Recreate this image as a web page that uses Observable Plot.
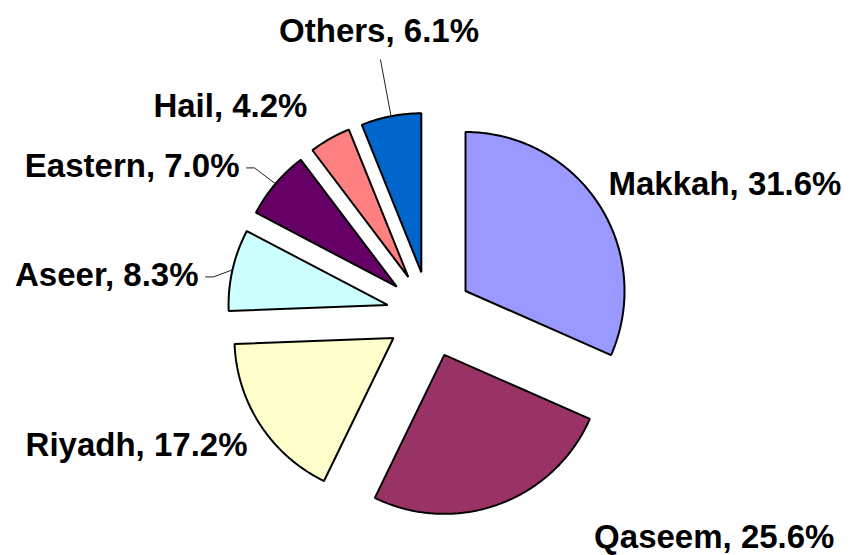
<!DOCTYPE html>
<html>
<head>
<meta charset="utf-8">
<script src="https://cdn.jsdelivr.net/npm/d3@7"></script>
<script src="https://cdn.jsdelivr.net/npm/@observablehq/plot@0.6"></script>
<style>
  html, body { margin: 0; padding: 0; background: #ffffff; }
  #chart { width: 853px; height: 555px; }
</style>
</head>
<body>
<div id="chart"></div>
<script>
// ---- data ----
const regions = ["Makkah", "Qaseem", "Riyadh", "Aseer", "Eastern", "Hail", "Others"];
const shares  = [31.6, 25.6, 17.2, 8.3, 7.0, 4.2, 6.1];
const colors  = ["#9999FF", "#993366", "#FFFFCC", "#CCFFFF", "#660066", "#FF8080", "#0066CC"];

// ---- layout (pixels) ----
const W = 853, H = 555;
const R = 159;              // pie radius in px
const CX = 429, CY = 314;   // pie centre in px
const EXPLODE = 43 / R;     // explosion distance in radius units
const labelShift  = [[9.8, -19.2], [95, 33.5], [-12.8, 21], [-34, 6.1], [-36, -16.9], [-22.5, -31.8], [-12, -84.3]];
const labelAnchor = ["start", "start", "end", "end", "end", "end", "middle"];
const hasLeader   = [false, false, false, true, true, false, true];

// ---- geometry from data ----
const total = d3.sum(shares);
const slices = [];
let acc = 0;
regions.forEach((name, i) => {
  const a0 = acc / total * 2 * Math.PI;
  acc += shares[i];
  const a1 = acc / total * 2 * Math.PI;
  const m = (a0 + a1) / 2;
  slices.push({name, i, a0, a1, m, label: `${name}, ${shares[i].toFixed(1)}%`});
});

const slicePts = [];
for (const s of slices) {
  const tx = EXPLODE * Math.sin(s.m), ty = EXPLODE * Math.cos(s.m);
  slicePts.push({name: s.name, x: tx, y: ty});
  const n = Math.max(4, Math.ceil((s.a1 - s.a0) / (Math.PI / 360)));
  for (let k = 0; k <= n; k++) {
    const a = s.a0 + (s.a1 - s.a0) * k / n;
    slicePts.push({name: s.name, x: tx + Math.sin(a), y: ty + Math.cos(a)});
  }
}

const labelData = slices.map(s => {
  const mx = (EXPLODE + 1) * Math.sin(s.m), my = (EXPLODE + 1) * Math.cos(s.m);
  const [dx, dy] = labelShift[s.i];
  return {name: s.name, label: s.label, anchor: labelAnchor[s.i],
          mx, my, x: mx + dx / R, y: my - dy / R};
});

const leaderPts = [];
for (const d of labelData) {
  if (!hasLeader[regions.indexOf(d.name)]) continue;
  if (d.anchor === "end") {
    leaderPts.push({name: d.name, x: d.x + 7 / R, y: d.y - 1 / R});
    leaderPts.push({name: d.name, x: d.x + 15 / R, y: d.y - 1 / R});
  } else {
    leaderPts.push({name: d.name, x: d.x + 1.5 / R, y: d.y - 28 / R});
  }
  leaderPts.push({name: d.name, x: d.mx, y: d.my});
}

const textStyle = {
  x: "x", y: "y", text: "label",
  fontFamily: "'Liberation Sans', Arial, sans-serif",
  fontSize: 33, fontWeight: "bold", fill: "black", lineAnchor: "middle"
};

const chart = Plot.plot({
  width: W, height: H, margin: 0,
  x: {domain: [-CX / R, (W - CX) / R], axis: null},
  y: {domain: [-(H - CY) / R, CY / R], axis: null},
  color: {domain: regions, range: colors},
  style: {background: "#ffffff"},
  marks: [
    Plot.line(slicePts, {x: "x", y: "y", z: "name", fill: "name", stroke: "black",
                         strokeWidth: 2, curve: "linear-closed", strokeLinejoin: "miter"}),
    Plot.line(leaderPts, {x: "x", y: "y", z: "name", stroke: "#222", strokeWidth: 1}),
    Plot.text(labelData.filter(d => d.anchor === "start"),  {...textStyle, textAnchor: "start"}),
    Plot.text(labelData.filter(d => d.anchor === "end"),    {...textStyle, textAnchor: "end"}),
    Plot.text(labelData.filter(d => d.anchor === "middle"), {...textStyle, textAnchor: "middle"})
  ]
});
document.getElementById("chart").appendChild(chart);
</script>
</body>
</html>
